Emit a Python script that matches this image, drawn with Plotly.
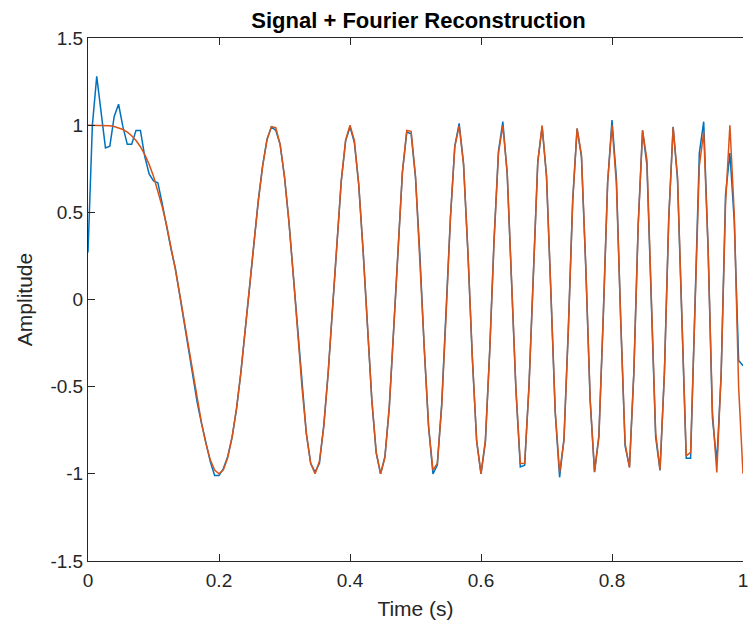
import numpy as np
import plotly.graph_objects as go

# sample rate and time stamps (151 samples over 0..1 s)
fs = 150
t = np.arange(0, fs + 1) / fs

# Orange series (signal)
signal = [
    1.000, 1.000, 1.000, 0.9995, 0.9984, 0.9962, 0.9921, 0.9854, 0.9751, 0.9603,
    0.9397, 0.9121, 0.8763, 0.8310, 0.7750, 0.7071, 0.6264, 0.5320, 0.4258, 0.3062,
    0.1736, 0.0314, -0.1184, -0.2723, -0.4258, -0.5736, -0.7096, -0.8271, -0.9189, -0.9789,
    -1.000, -0.9774, -0.9078, -0.7902, -0.6264, -0.4226, -0.1874, 0.0663, 0.3223, 0.5621,
    0.7660, 0.9150, 0.9921, 0.9854, 0.8894, 0.7071, 0.4500, 0.1428, -0.1874, -0.5025,
    -0.7660, -0.9409, -0.9999, -0.9285, -0.7290, -0.4226, -0.0488, 0.3387, 0.6802, 0.9150,
    1.000, 0.9121, 0.6589, 0.2790, -0.1599, -0.5736, -0.8763, -0.9993, -0.9078, -0.6129,
    -0.1736, 0.3125, 0.7290, 0.9695, 0.9650, 0.7071, 0.2554, -0.2723, -0.7290, -0.9789,
    -0.9397, -0.6129, -0.0906, 0.4663, 0.8763, 0.9962, 0.7750, 0.2790, -0.3223, -0.8114,
    -1.000, -0.8069, -0.2957, 0.3387, 0.8412, 0.9962, 0.7290, 0.1428, -0.5125, -0.9409,
    -0.9397, -0.4970, 0.1874, 0.7865, 0.9984, 0.7071, 0.0488, -0.6414, -0.9921, -0.8069,
    -0.1736, 0.5621, 0.9810, 0.8310, 0.1874, -0.5736, -0.9882, -0.7902, -0.0906, 0.6730,
    1.000, 0.6664, -0.1184, -0.8271, -0.9650, -0.4226, 0.4258, 0.9695, 0.8007, 0.0314,
    -0.7660, -0.9774, -0.4258, 0.4663, 0.9882, 0.7071, -0.1599, -0.8966, -0.8763, -0.1011,
    0.7660, 0.9603, 0.2957, -0.6414, -0.9921, -0.4226, 0.5476, 0.9995, 0.4879, -0.5025,
    -1.000,
]

# Blue series (Fourier reconstruction)
recon = [
    0.27, 1.00, 1.28, 1.07, 0.87, 0.88, 1.05, 1.12, 0.99, 0.89,
    0.89, 0.97, 0.97, 0.82, 0.72, 0.68, 0.67, 0.55, 0.41, 0.29,
    0.18, 0.03, -0.13, -0.28, -0.44, -0.59, -0.71, -0.83, -0.93, -1.01,
    -1.01, -0.97, -0.90, -0.79, -0.63, -0.42, -0.19, 0.07, 0.32, 0.57,
    0.77, 0.92, 0.99, 0.97, 0.89, 0.70, 0.45, 0.14, -0.19, -0.50,
    -0.77, -0.94, -0.99, -0.94, -0.72, -0.42, -0.05, 0.34, 0.68, 0.91,
    0.99, 0.90, 0.66, 0.28, -0.16, -0.58, -0.88, -1.00, -0.90, -0.62,
    -0.17, 0.31, 0.73, 0.96, 0.95, 0.70, 0.26, -0.28, -0.73, -1.00,
    -0.95, -0.60, -0.09, 0.47, 0.88, 1.01, 0.78, 0.27, -0.33, -0.81,
    -1.00, -0.82, -0.29, 0.35, 0.85, 1.02, 0.72, 0.14, -0.52, -0.96,
    -0.95, -0.49, 0.19, 0.79, 0.99, 0.71, 0.04, -0.65, -1.02, -0.80,
    -0.17, 0.57, 0.98, 0.82, 0.18, -0.58, -0.99, -0.78, -0.10, 0.67,
    1.03, 0.70, -0.12, -0.84, -0.96, -0.42, 0.43, 0.97, 0.77, 0.03,
    -0.79, -0.98, -0.42, 0.47, 0.99, 0.69, -0.16, -0.91, -0.91, -0.10,
    0.84, 1.02, 0.30, -0.68, -0.93, -0.43, 0.60, 0.84, 0.45, -0.35,
    -0.38,
]

x_ticks = [0, 0.2, 0.4, 0.6, 0.8, 1]
x_ticktext = ["0", "0.2", "0.4", "0.6", "0.8", "1"]
y_ticks = [-1.5, -1, -0.5, 0, 0.5, 1, 1.5]
y_ticktext = ["-1.5", "-1", "-0.5", "0", "0.5", "1", "1.5"]

AX = "#262626"
FONT = "Liberation Sans, Arial, Helvetica, sans-serif"

fig = go.Figure()
fig.add_trace(go.Scatter(x=t, y=recon, mode="lines",
                         line=dict(color="#0072BD", width=1.5), name="Reconstruction"))
fig.add_trace(go.Scatter(x=t, y=signal, mode="lines",
                         line=dict(color="#D95319", width=1.5), name="Signal"))

fig.update_layout(
    width=748, height=625,
    margin=dict(l=88, r=0, t=38, b=64),
    plot_bgcolor="white", paper_bgcolor="white",
    showlegend=False,
    font=dict(family=FONT, color=AX),
    title=dict(text="<b>Signal + Fourier Reconstruction</b>",
               x=(88 + 749) / 2 / 748, xanchor="center",
               y=1 - 20 / 625, yanchor="middle", yref="container",
               font=dict(size=22, color="black", family=FONT)),
)
fig.update_xaxes(
    range=[0, 1], tickvals=x_ticks, ticktext=x_ticktext,
    ticks="inside", ticklen=7, tickwidth=1, tickcolor=AX,
    showline=True, linecolor=AX, linewidth=1, mirror="ticks",
    showgrid=False, zeroline=False,
    tickfont=dict(size=19, color=AX, family=FONT),
    ticklabeloverflow="allow",
    ticklabelstandoff=2,
    title=dict(text="Time (s)", font=dict(size=21, color=AX, family=FONT), standoff=11),
)
fig.update_yaxes(
    range=[-1.5, 1.5], tickvals=y_ticks, ticktext=y_ticktext,
    ticks="inside", ticklen=7, tickwidth=1, tickcolor=AX,
    showline=True, linecolor=AX, linewidth=1, mirror=False,
    showgrid=False, zeroline=False,
    tickfont=dict(size=19, color=AX, family=FONT),
    title=dict(text="Amplitude", font=dict(size=21, color=AX, family=FONT), standoff=12),
)

fig.write_html("out.html")
